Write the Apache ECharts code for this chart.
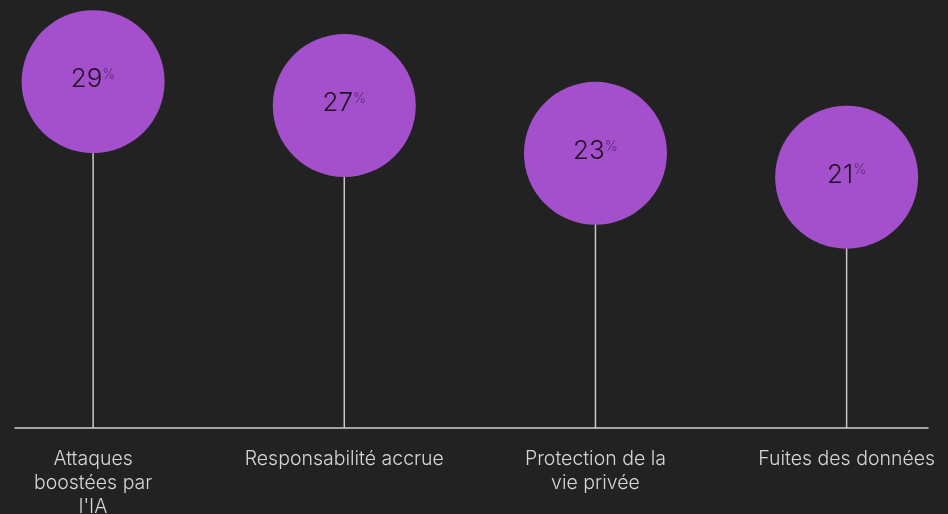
<!DOCTYPE html>
<html>
<head>
<meta charset="utf-8">
<script src="https://cdn.jsdelivr.net/npm/echarts@6/dist/echarts.min.js"></script>
<style>
  html, body { margin: 0; padding: 0; background: #222222; }
  #chart { width: 948px; height: 514px; }
</style>
</head>
<body>
<div id="chart"></div>
<script>
// Risk categories (line breaks keep the long names on several lines)
const categories = [
  "Attaques\nboostées par\nl'IA",
  "Responsabilité accrue",
  "Protection de la\nvie privée",
  "Fuites des données"
];
// Share of respondents, in percent
const values = [29, 27, 23, 21];
const catIndex = [0, 1, 2, 3];

const points = catIndex.map((i) => [i, values[i]]);

const chart = echarts.init(document.getElementById('chart'), null, { renderer: 'canvas' });

chart.setOption({
  backgroundColor: '#222222',
  animation: false,
  grid: { left: 15, right: 20, top: 10, bottom: 86, outerBoundsMode: 'none', containLabel: false },
  xAxis: {
    type: 'value',
    min: -0.311,
    max: 3.324,
    splitLine: { show: false },
    axisTick: { show: false },
    axisLine: { show: true, onZero: false, lineStyle: { color: '#cfcfcf', width: 1.6 } },
    axisLabel: {
      customValues: catIndex,
      formatter: (v) => categories[Math.round(v)],
      color: '#d6d6d6',
      fontFamily: 'Inter',
      fontWeight: 300,
      fontSize: 19.5,
      lineHeight: 24,
      margin: 19,
      align: 'center'
    }
  },
  yAxis: {
    type: 'value',
    min: 0,
    max: 35,
    show: false,
    splitLine: { show: false }
  },
  series: [
    {
      // stems from the baseline up to each circle
      type: 'bar',
      data: points,
      barWidth: 1.5,
      itemStyle: { color: '#c8c8c8' },
      z: 1
    },
    {
      type: 'scatter',
      data: points,
      symbol: 'circle',
      symbolSize: 143,
      itemStyle: { color: '#a44fcb', opacity: 1 },
      clip: false,
      z: 2,
      label: {
        show: true,
        position: 'inside',
        offset: [0, -2],
        formatter: (p) => '{v|' + p.value[1] + '}{p|%}',
        rich: {
          v: {
            fontFamily: 'Inter',
            fontWeight: 300,
            fontSize: 26,
            color: '#1c1420',
            lineHeight: 30
          },
          p: {
            fontFamily: 'Inter',
            fontWeight: 300,
            fontSize: 14,
            color: '#5a2a70',
            padding: [0, 0, 10, 0],
            lineHeight: 30
          }
        }
      }
    }
  ]
});
</script>
</body>
</html>
